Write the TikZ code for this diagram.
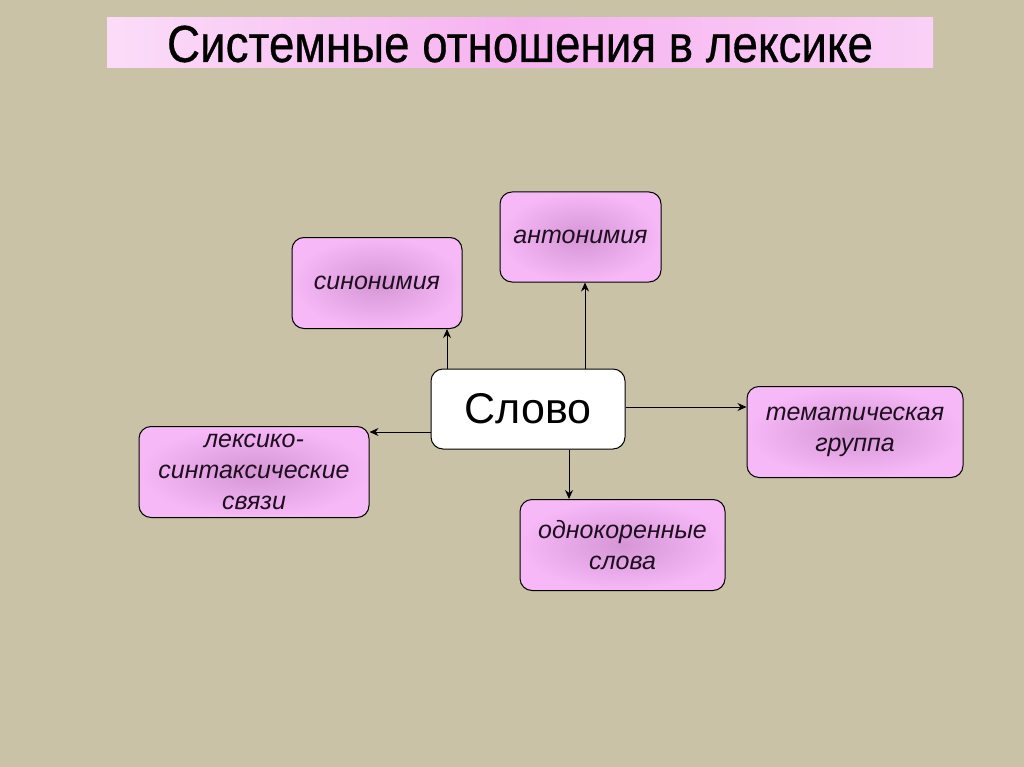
\documentclass[tikz,border=0pt]{standalone}
\usepackage{fontspec}
\setmainfont{Liberation Sans}
\usetikzlibrary{arrows.meta}
\definecolor{bg}{RGB}{202,194,166}
\definecolor{pinkout}{RGB}{246,184,246}
\definecolor{pinkin}{RGB}{214,150,214}
\definecolor{titlepink}{RGB}{246,178,240}
\definecolor{txt}{RGB}{30,15,30}
\tikzset{
  pbox/.style={draw=black, line width=1pt, rounded corners=12pt,
    inner color=pinkin, outer color=pinkout, text=txt, align=center,
    font=\itshape\fontsize{25}{31}\selectfont, inner sep=0pt},
  conn/.style={draw=black, line width=1pt, -{Stealth[length=9pt,width=8pt]}}
}
\begin{document}
\begin{tikzpicture}[x=1pt,y=-1pt]
\useasboundingbox (0,0) rectangle (1024,767);
\fill[bg] (0,0) rectangle (1024,767);
% title
\shade[left color=white!55!titlepink, right color=white!40!titlepink, middle color=titlepink] (107,18) rectangle (933,68);
\node (title) at (520,44) {\scalebox{0.88}[1]{\addfontfeatures{FakeBold=0.6}\fontsize{52}{56}\selectfont Системные отношения в лексике}};
% boxes
\node[pbox, minimum width=170pt, minimum height=91pt] (syn) at (377,283) {синонимия};
\node[pbox, minimum width=161pt, minimum height=90pt] (ant) at (580.5,237) {антонимия};
\node[draw=black, line width=1pt, rounded corners=12pt, fill=white, minimum width=194pt, minimum height=80pt, inner sep=0pt, font=\fontsize{43}{46}\selectfont] (slovo) at (528,409) {Слово};
\node[pbox, minimum width=216pt, minimum height=91pt] (tem) at (855,432) {тематическая\\группа};
\node[pbox, minimum width=230pt, minimum height=91pt] (lex) at (254,472) {лексико-\\синтаксические\\связи};
\node[pbox, minimum width=205pt, minimum height=91pt] (odn) at (622.5,545) {однокоренные\\слова};
% connectors
\draw[conn] ([xshift=-81pt]slovo.north) -- ([xshift=-81pt]slovo.north |- syn.south);
\draw[conn] ([xshift=57pt]slovo.north) -- ([xshift=57pt]slovo.north |- ant.south);
\draw[conn] ([yshift=2pt]slovo.east) -- ([yshift=2pt]slovo.east -| tem.west);
\draw[conn] ([yshift=-23pt]slovo.west) -- ([yshift=-23pt]slovo.west -| lex.east);
\draw[conn] ([xshift=41pt]slovo.south) -- ([xshift=41pt]slovo.south |- odn.north);
\end{tikzpicture}
\end{document}
